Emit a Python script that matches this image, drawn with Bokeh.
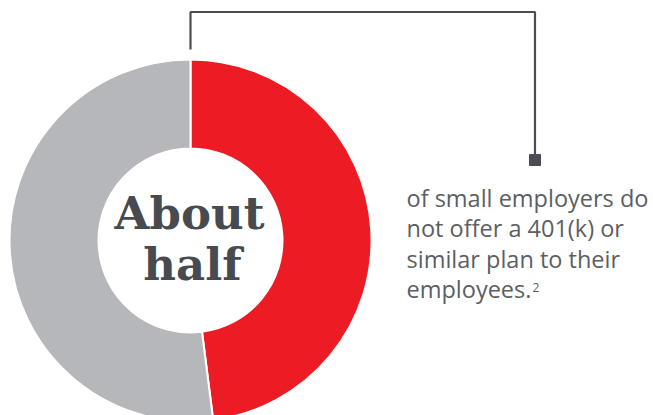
import math
from bokeh.plotting import figure
from bokeh.models import Range1d, ColumnDataSource
from bokeh.core.properties import value
from bokeh.embed import file_html
from bokeh.resources import INLINE

# ---- data ----
categories = ["Do not offer a plan", "Offer a plan"]
shares = [48, 52]
colors = ["#ed1c24", "#b6b7ba"]
center_label = ["About", "half"]
note_lines = ["of small employers do", "not offer a 401(k) or", "similar plan to their", "employees."]
footnote = "2"

W, H = 653, 415

p = figure(width=W, height=H, output_backend="svg", toolbar_location=None,
           x_range=Range1d(0, W), y_range=Range1d(0, H),
           min_border=0, tools="")
p.axis.visible = False
p.grid.visible = False
p.outline_line_color = None
p.background_fill_color = "white"

def Y(py):
    return H - py

# empirical baseline correction (renderer places alphabetic text lower)
K = 0.365

# donut
total = sum(shares)
starts, ends = [], []
a = math.pi / 2
for s in shares:
    starts.append(a)
    a -= 2 * math.pi * s / total
    ends.append(a)
src = ColumnDataSource(dict(cat=categories, start=starts, end=ends, color=colors))
cx, cy = 190, Y(240)
p.annular_wedge(x=cx, y=cy, inner_radius=92, outer_radius=181,
                start_angle="start", end_angle="end", direction="clock",
                fill_color="color", line_color="white", line_width=2, source=src)

# center label
fs1 = 45
p.text(x=[cx - 1, cx + 2], y=[Y(229 - K * fs1), Y(280 - K * fs1)], text=center_label,
       text_font=value("DejaVu Serif"), text_font_style="bold", text_font_size=f"{fs1}px",
       text_color="#474a4f", text_align="center", text_baseline="alphabetic")

# leader line
lc = "#4a4d52"
p.line(x=[190, 190, 534.5, 534.5], y=[Y(49), Y(11.5), Y(11.5), Y(156)],
       line_color=lc, line_width=2.2)
p.scatter(x=[534.5], y=[Y(159.5)], marker="square", size=11, fill_color=lc, line_color=lc)

# note text
fs2 = 23.5
tx = 406
base = [206.5, 236.5, 267, 297]
p.text(x=[tx] * 4, y=[Y(b - K * fs2) for b in base], text=note_lines,
       text_font=value("Open Sans"), text_font_size=f"{fs2}px", text_color="#5b5e63",
       text_align="left", text_baseline="alphabetic")
fs3 = 12
p.text(x=[532], y=[Y(291.5 - K * fs3)], text=[footnote],
       text_font=value("Open Sans"), text_font_size=f"{fs3}px", text_color="#5b5e63",
       text_align="left", text_baseline="alphabetic")

open("out.html", "w").write(file_html(p, INLINE))
